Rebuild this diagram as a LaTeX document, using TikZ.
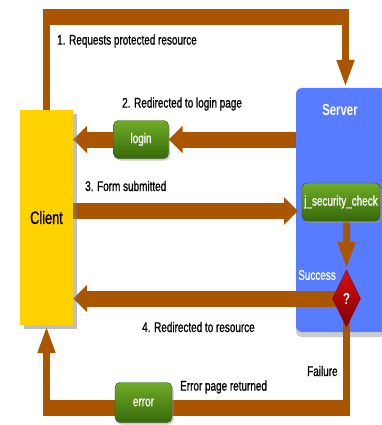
\documentclass[tikz,border=0pt]{standalone}
\usepackage{fontspec}
\setmainfont[FakeStretch=0.71]{Liberation Sans}
\newfontfamily\heavyfamily[FakeStretch=0.71,FakeBold=0.9]{Liberation Sans}
\usetikzlibrary{arrows.meta,shapes.geometric,shadows,positioning}

\definecolor{flowbrown}{RGB}{170,85,0}
\definecolor{clientyellow}{RGB}{255,210,0}
\definecolor{serverblue}{RGB}{88,124,255}
\definecolor{boxgreenhi}{RGB}{112,172,40}
\definecolor{boxgreenlo}{RGB}{55,105,10}
\definecolor{boxgreenrim}{RGB}{40,80,5}
\definecolor{askred}{RGB}{215,15,15}
\definecolor{askdark}{RGB}{130,0,0}

\newcommand{\labfont}{\heavyfamily\fontsize{14}{16}\selectfont}

\pgfdeclarelayer{back}
\pgfdeclarelayer{flow}
\pgfsetlayers{back,flow,main}

\tikzset{
  hflow/.style={draw=flowbrown, line width=16pt},
  vflow/.style={draw=flowbrown, line width=7.5pt},
  hhead/.style={-{Triangle[width=27pt,length=14pt]}},
  vhead/.style={-{Triangle[width=16pt,length=28pt]}},
  greenbox/.style={rectangle, rounded corners=5pt, draw=boxgreenrim,
    top color=boxgreenhi, bottom color=boxgreenlo, text=white,
    font=\labfont, inner sep=0pt,
    drop shadow={shadow xshift=1.5pt, shadow yshift=-2pt, fill=black!40}},
  steplabel/.style={font=\labfont, text=black, anchor=west, inner sep=0pt},
}

\begin{document}
\begin{tikzpicture}[x=1pt,y=-1pt]
    \useasboundingbox (0,0) rectangle (382,425);
    \clip (0,0) rectangle (382,425);

    % boxes
    \begin{pgfonlayer}{back}
    \node[rectangle, rounded corners=6pt, fill=serverblue, minimum width=90pt, minimum height=244pt,
        drop shadow={shadow xshift=0pt, shadow yshift=-5pt, fill=black!40}] (server) at (341,210) {};
    \end{pgfonlayer}
    \node[font=\bfseries\fontsize{16}{18}\selectfont, text=white] (servertitle) at (340,110) {Server};
    \node[rectangle, fill=clientyellow, minimum width=53pt, minimum height=215pt,
        font=\heavyfamily\fontsize{18}{20}\selectfont,
        drop shadow={shadow xshift=4pt, shadow yshift=-4pt, fill=black!50}] (client) at (46.5,217.5) {Client};
    \node[greenbox, minimum width=55pt, minimum height=38pt] (login) at (141,139.5) {login};
    \node[greenbox, minimum width=78pt, minimum height=38pt] (check) at (341,202) {j\_security\_check};
    \node[greenbox, minimum width=57pt, minimum height=40pt] (error) at (143.5,402.5) {error};
    \node[diamond, minimum width=28pt, minimum height=57pt, inner sep=0pt, draw=askdark,
        top color=askred, bottom color=askdark, text=white,
        font=\bfseries\fontsize{16}{18}\selectfont] (decide) at (346.5,298.5) {?};

    % turning points
    \coordinate (requp) at (46.5,9);
    \coordinate (reqleft) at (42.75,17);
    \coordinate (reqright) at (349.25,17);
    \coordinate (reqdrop) at (345.5,25);
    \coordinate (formin) at (298,211);
    \coordinate (failturn) at (346.5,416);
    \coordinate (failright) at (350.25,408);
    \coordinate (failleft) at (42.75,408);
    \coordinate (failup) at (46.5,416);

    % flows
    \begin{pgfonlayer}{flow}
    \draw[vflow] (client.north) -- (requp);
    \draw[hflow] (reqleft) -- (reqright);
    \draw[vflow,vhead] (reqdrop) -- (reqdrop |- server.north);
    \draw[hflow,hhead] (server.west |- login.east) -- (login.east);
    \draw[hflow,hhead] (login.west) -- (login.west -| client.east);
    \draw[hflow,hhead] (formin -| client.east) -- (formin);
    \draw[vflow,vhead] (check.south -| decide.north) -- (decide.north);
    \draw[hflow,hhead] (decide.center) -- (decide.center -| client.east);
    \draw[vflow] (decide.center) -- (failturn);
    \draw[hflow] (failright) -- (failleft);
    \draw[vflow,vhead] (failup) -- (client.south);
    \end{pgfonlayer}

    % labels
    \node[steplabel] (reqlabel) at (57,41) {1. Requests protected resource};
    \node[steplabel] (loginlabel) at (122,104) {2. Redirected to login page};
    \node[steplabel] (formlabel) at (85,186) {3. Form submitted};
    \node[steplabel] (backlabel) at (142,327) {4. Redirected to resource};
    \node[steplabel] (errlabel) at (180,387) {Error page returned};
    \node[steplabel] (faillabel) at (307,371) {Failure};
    \node[steplabel, text=white, anchor=east] (oklabel) at (336,275) {Success};
\end{tikzpicture}
\end{document}
